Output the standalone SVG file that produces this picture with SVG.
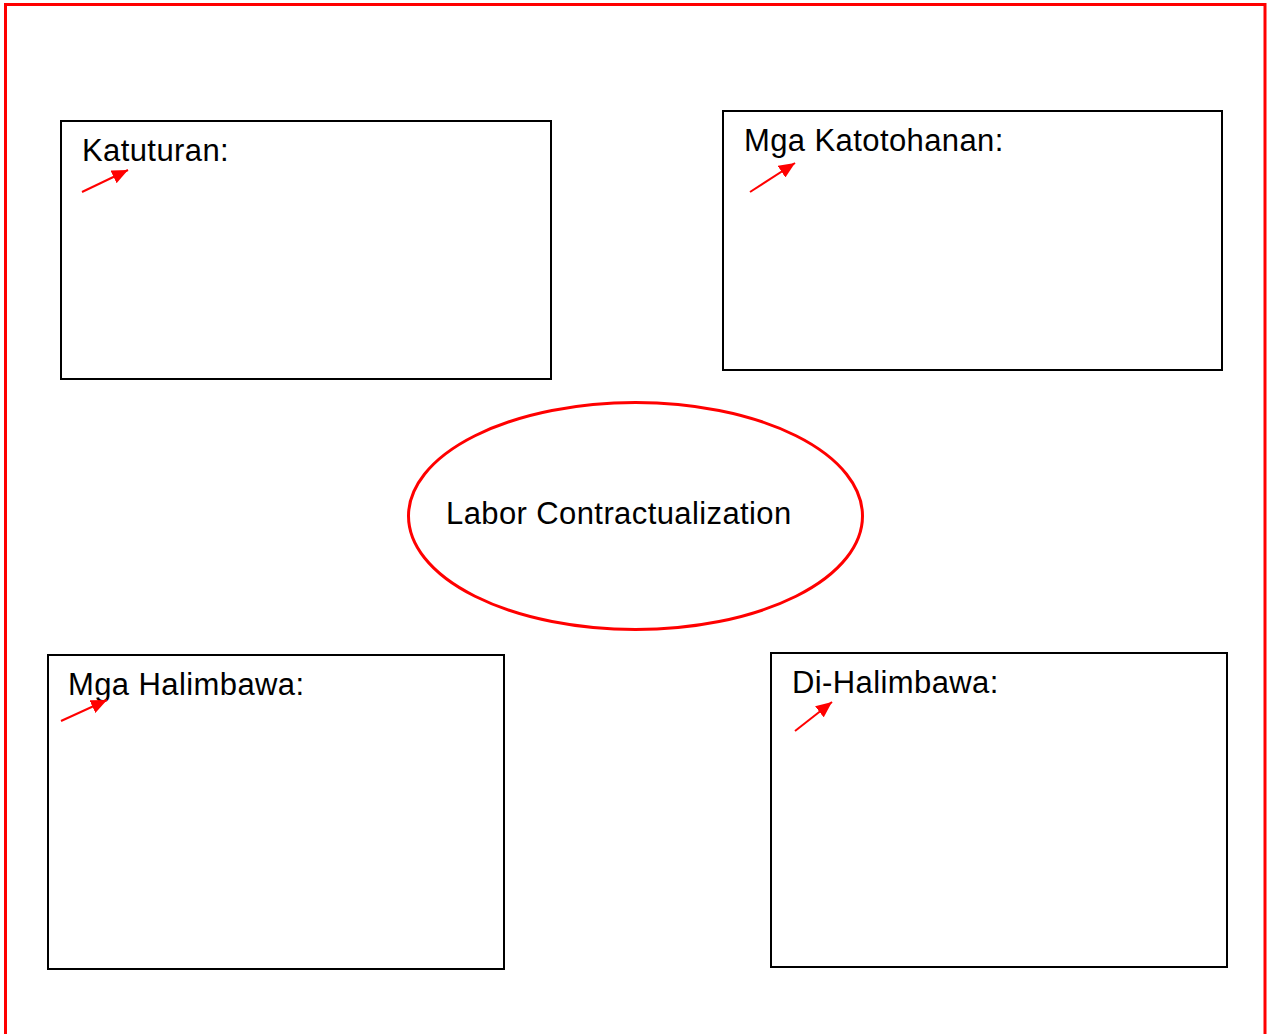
<svg xmlns="http://www.w3.org/2000/svg" width="1267" height="1034" viewBox="0 0 1267 1034">
<style>
.box{fill:#fff;stroke:#000;stroke-width:2}
.lbl{font-family:"Liberation Sans",Arial,sans-serif;font-size:31px;letter-spacing:0.4px;fill:#000}
.arr{stroke:#f00;stroke-width:2;fill:none;marker-end:url(#ah)}
</style>
<defs>
<marker id="ah" markerUnits="userSpaceOnUse" markerWidth="18" markerHeight="14" refX="16" refY="7" orient="auto">
<path d="M0,0 L16,7 L0,14 Z" fill="#f00"/>
</marker>
</defs>
<rect width="1267" height="1034" fill="#fff"/>
<path d="M5.5,1040 V4.5 H1265 V1040" fill="none" stroke="#f00" stroke-width="3"/>
<g id="katuturan">
<rect class="box" x="61" y="121" width="490" height="258"/>
<text class="lbl" x="82" y="161">Katuturan:</text>
</g>
<g id="katotohanan">
<rect class="box" x="723" y="111" width="499" height="259"/>
<text class="lbl" x="744" y="151">Mga Katotohanan:</text>
</g>
<g id="halimbawa">
<rect class="box" x="48" y="655" width="456" height="314"/>
<text class="lbl" x="68" y="695">Mga Halimbawa:</text>
</g>
<g id="di-halimbawa">
<rect class="box" x="771" y="653" width="456" height="314"/>
<text class="lbl" x="792" y="693">Di-Halimbawa:</text>
</g>
<g id="center">
<ellipse cx="635.5" cy="516" rx="227" ry="113.5" fill="#fff" stroke="#f00" stroke-width="3"/>
<text class="lbl" x="446" y="524">Labor Contractualization</text>
</g>
<g id="connectors">
<line class="arr" x1="82" y1="192" x2="128" y2="170"/>
<line class="arr" x1="750" y1="192" x2="795" y2="163"/>
<line class="arr" x1="61" y1="721" x2="107" y2="700"/>
<line class="arr" x1="795" y1="731" x2="832" y2="702"/>
</g>
</svg>
